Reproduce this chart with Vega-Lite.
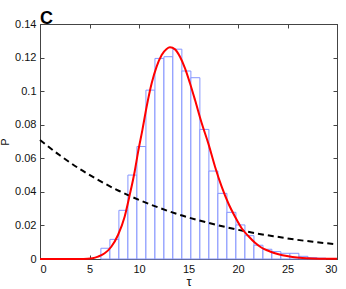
{
  "$schema": "https://vega.github.io/schema/vega-lite/v6.json",
  "width": 297,
  "height": 235,
  "autosize": {"type": "none"},
  "padding": {"left": 40, "top": 24, "right": 9, "bottom": 30},
  "background": "white",
  "config": {
    "view": {"stroke": "#444", "strokeWidth": 1},
    "axis": {
      "grid": false,
      "labelFont": "Liberation Sans",
      "labelFontSize": 11,
      "labelColor": "#111",
      "domainColor": "#444",
      "tickColor": "#444",
      "tickSize": -4,
      "labelPadding": 8,
      "titleFont": "Liberation Sans",
      "titleFontWeight": "normal",
      "titleFontSize": 12,
      "titleColor": "#111"
    }
  },
  "title": {"text": "C", "anchor": "start", "fontSize": 18, "fontWeight": "bold", "font": "Liberation Sans", "color": "#000", "offset": -7, "dy": 3, "frame": "group"},
  "datasets": {
    "bars": [
      {"x0": 6.15, "x1": 7.06, "p": 0.0064},
      {"x0": 7.06, "x1": 7.97, "p": 0.0117},
      {"x0": 7.97, "x1": 8.88, "p": 0.029},
      {"x0": 8.88, "x1": 9.79, "p": 0.050},
      {"x0": 9.79, "x1": 10.70, "p": 0.067},
      {"x0": 10.70, "x1": 11.61, "p": 0.1006},
      {"x0": 11.61, "x1": 12.52, "p": 0.1195},
      {"x0": 12.52, "x1": 13.42, "p": 0.1205},
      {"x0": 13.42, "x1": 14.33, "p": 0.125},
      {"x0": 14.33, "x1": 15.24, "p": 0.112},
      {"x0": 15.24, "x1": 16.15, "p": 0.108},
      {"x0": 16.15, "x1": 17.06, "p": 0.0772},
      {"x0": 17.06, "x1": 17.97, "p": 0.0524},
      {"x0": 17.97, "x1": 18.88, "p": 0.0391},
      {"x0": 18.88, "x1": 19.79, "p": 0.0278},
      {"x0": 19.79, "x1": 20.70, "p": 0.0203},
      {"x0": 20.70, "x1": 21.61, "p": 0.0139},
      {"x0": 21.61, "x1": 22.52, "p": 0.0082},
      {"x0": 22.52, "x1": 23.42, "p": 0.0058},
      {"x0": 23.42, "x1": 24.33, "p": 0.0044},
      {"x0": 24.33, "x1": 25.24, "p": 0.0034},
      {"x0": 25.24, "x1": 26.15, "p": 0.0034},
      {"x0": 26.15, "x1": 27.06, "p": 0.0016},
      {"x0": 27.06, "x1": 27.97, "p": 0.0008},
      {"x0": 27.97, "x1": 28.88, "p": 0.0005}
    ],
    "fit": [
      {"t": 0, "p": 0}, {"t": 2, "p": 0}, {"t": 4, "p": 0}, {"t": 4.8, "p": 0.0001},
      {"t": 5.3, "p": 0.0004}, {"t": 5.86, "p": 0.0014}, {"t": 6.53, "p": 0.0034},
      {"t": 7.2, "p": 0.0073}, {"t": 7.88, "p": 0.0143}, {"t": 8.55, "p": 0.0252},
      {"t": 9.06, "p": 0.0381}, {"t": 9.56, "p": 0.052}, {"t": 9.9, "p": 0.0635},
      {"t": 10.34, "p": 0.0768}, {"t": 10.77, "p": 0.0907}, {"t": 11.28, "p": 0.1047},
      {"t": 11.78, "p": 0.1146}, {"t": 12.29, "p": 0.1215}, {"t": 12.79, "p": 0.1251},
      {"t": 13.13, "p": 0.1261}, {"t": 13.64, "p": 0.1249}, {"t": 14.14, "p": 0.1205},
      {"t": 14.65, "p": 0.1136}, {"t": 15.15, "p": 0.1047}, {"t": 15.66, "p": 0.0947},
      {"t": 16.33, "p": 0.081}, {"t": 17.0, "p": 0.0689}, {"t": 17.68, "p": 0.055},
      {"t": 18.35, "p": 0.0431}, {"t": 19.02, "p": 0.0332}, {"t": 19.7, "p": 0.0252},
      {"t": 20.37, "p": 0.0183}, {"t": 21.04, "p": 0.0137}, {"t": 21.72, "p": 0.0097},
      {"t": 22.39, "p": 0.0067}, {"t": 23.06, "p": 0.0049}, {"t": 23.74, "p": 0.0034},
      {"t": 24.5, "p": 0.0022}, {"t": 25.5, "p": 0.0012}, {"t": 26.5, "p": 0.0006},
      {"t": 27.5, "p": 0.0003}, {"t": 28.5, "p": 0.0002}, {"t": 30, "p": 0.0001}
    ],
    "expo": [
      {"t": 0, "p": 0.0709}, {"t": 2, "p": 0.0618}, {"t": 4, "p": 0.0537},
      {"t": 6, "p": 0.0467}, {"t": 8, "p": 0.0405}, {"t": 10, "p": 0.0352},
      {"t": 12, "p": 0.0306}, {"t": 14, "p": 0.0265}, {"t": 16, "p": 0.0231},
      {"t": 18, "p": 0.0201}, {"t": 20, "p": 0.0174}, {"t": 22, "p": 0.0151},
      {"t": 24, "p": 0.0132}, {"t": 26, "p": 0.0114}, {"t": 28, "p": 0.0100},
      {"t": 30, "p": 0.0087}
    ]
  },
  "resolve": {"axis": {"x": "independent", "y": "independent"}},
  "layer": [
    {
      "data": {"name": "bars"},
      "mark": {"type": "rect", "fill": "white", "stroke": "#8595ff", "strokeWidth": 1},
      "encoding": {
        "x": {"field": "x0", "type": "quantitative", "scale": {"domain": [0, 30], "nice": false, "padding": 0, "zero": false},
              "axis": {"values": [0, 5, 10, 15, 20, 25, 30], "title": "τ", "titleFontSize": 13, "titlePadding": 1}},
        "x2": {"field": "x1"},
        "y": {"field": "p", "type": "quantitative", "scale": {"domain": [0, 0.14], "nice": false, "padding": 0},
              "axis": {"values": [0, 0.02, 0.04, 0.06, 0.08, 0.1, 0.12, 0.14], "format": "~g", "title": "P", "titleFontSize": 11, "titlePadding": 4}},
        "y2": {"datum": 0}
      }
    },
    {
      "data": {"name": "expo"},
      "mark": {"type": "line", "color": "#000", "strokeWidth": 2, "strokeDash": [6, 4], "interpolate": "monotone"},
      "encoding": {
        "x": {"field": "t", "type": "quantitative",
              "axis": {"orient": "top", "labels": false, "title": null, "values": [0, 5, 10, 15, 20, 25, 30]}},
        "y": {"field": "p", "type": "quantitative",
              "axis": {"orient": "right", "labels": false, "title": null, "values": [0, 0.02, 0.04, 0.06, 0.08, 0.1, 0.12, 0.14]}}
      }
    },
    {
      "data": {"name": "fit"},
      "mark": {"type": "line", "color": "#ff0000", "strokeWidth": 2, "interpolate": "monotone"},
      "encoding": {
        "x": {"field": "t", "type": "quantitative", "axis": null},
        "y": {"field": "p", "type": "quantitative", "axis": null}
      }
    }
  ]
}
